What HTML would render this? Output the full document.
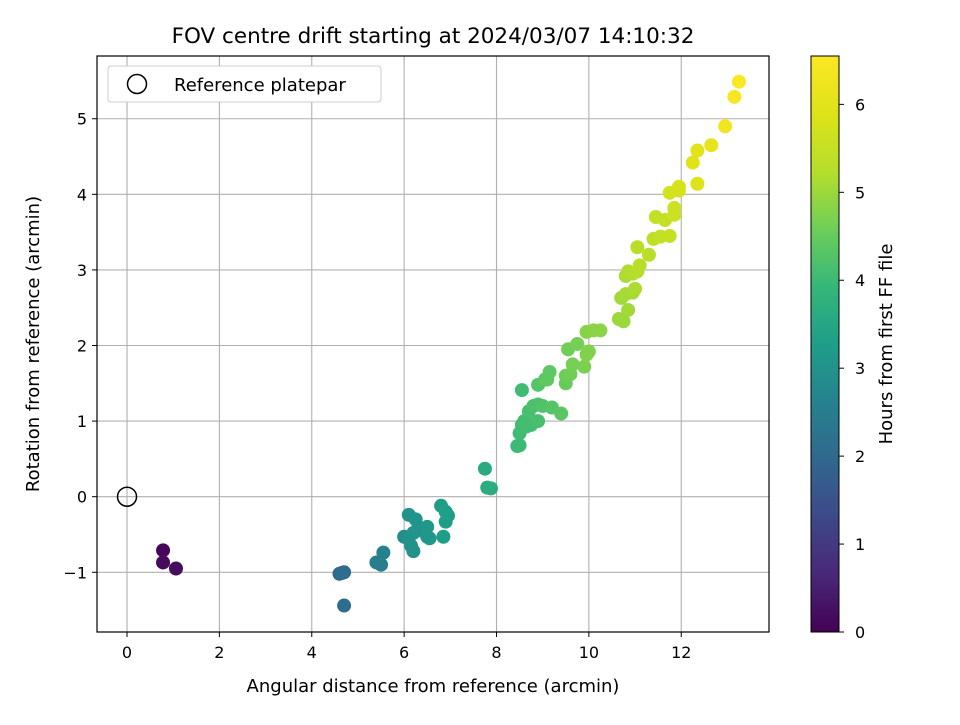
<!DOCTYPE html>
<html><head><meta charset="utf-8"><style>
body{margin:0;background:#fff}
text{font-family:"DejaVu Sans","Liberation Sans",sans-serif;fill:#000}
</style></head><body>
<svg id="chart" width="960" height="720" viewBox="0 0 960 720" xmlns="http://www.w3.org/2000/svg">
<defs>
<linearGradient id="vir" x1="0" y1="1" x2="0" y2="0">
<stop offset="0" stop-color="#440154"/><stop offset="0.1" stop-color="#482878"/><stop offset="0.2" stop-color="#3e4989"/><stop offset="0.3" stop-color="#31688e"/><stop offset="0.4" stop-color="#26828e"/><stop offset="0.5" stop-color="#1f9e89"/><stop offset="0.6" stop-color="#35b779"/><stop offset="0.7" stop-color="#6ece58"/><stop offset="0.8" stop-color="#b5de2b"/><stop offset="0.9" stop-color="#dde318"/><stop offset="1" stop-color="#fde725"/>
</linearGradient>
<clipPath id="clip"><rect x="97" y="56" width="672" height="576"/></clipPath>
</defs>
<text x="433" y="43" font-size="21.5" text-anchor="middle">FOV centre drift starting at 2024/03/07 14:10:32</text>
<g id="grid"></g>
<g id="points" clip-path="url(#clip)"></g>
<rect x="97" y="56" width="672" height="576" fill="none" stroke="#000" stroke-width="1.2"/>
<g id="ticks"></g>
<text x="433" y="692" font-size="18" text-anchor="middle">Angular distance from reference (arcmin)</text>
<text transform="translate(39,344) rotate(-90)" font-size="18" text-anchor="middle">Rotation from reference (arcmin)</text>
<g>
<rect x="108" y="66" width="273" height="36" rx="3" fill="#fff" stroke="#ccc"/>
<circle cx="137" cy="84" r="9.5" fill="none" stroke="#000" stroke-width="1.5"/>
<text x="174" y="91" font-size="18">Reference platepar</text>
</g>
<rect x="811" y="56" width="28" height="576" fill="url(#vir)" stroke="#000" stroke-width="1"/>
<g id="cbticks"></g>
<text transform="translate(892,344) rotate(-90)" font-size="18" text-anchor="middle">Hours from first FF file</text>
</svg>
<script>
const xs=[0.78,0.78,1.06,4.6,4.7,4.65,4.7,5.4,5.5,5.55,6.0,6.1,6.15,6.2,6.1,6.25,6.3,6.4,6.5,6.5,6.55,6.2,6.8,6.9,6.95,6.9,6.85,7.75,7.8,7.88,8.45,8.5,8.5,8.55,8.6,8.7,8.65,8.75,8.8,8.9,8.9,9.0,9.2,9.4,8.55,8.9,9.05,9.1,9.15,9.5,9.5,9.6,9.55,9.65,9.75,9.9,9.95,10.0,9.95,10.1,10.25,10.65,10.75,10.7,10.85,10.8,10.95,11.0,10.8,10.85,10.95,11.05,11.1,11.05,11.3,11.4,11.45,11.55,11.65,11.75,11.85,11.85,11.75,11.95,11.95,12.35,12.25,12.35,12.65,12.95,13.15,13.25];
const ys=[-0.71,-0.87,-0.95,-1.02,-1.0,-1.01,-1.44,-0.87,-0.9,-0.74,-0.53,-0.24,-0.65,-0.72,-0.55,-0.3,-0.42,-0.45,-0.4,-0.53,-0.55,-0.48,-0.12,-0.2,-0.25,-0.33,-0.53,0.37,0.12,0.11,0.67,0.68,0.84,0.95,1.0,1.13,0.93,0.95,1.2,1.22,1.0,1.2,1.18,1.1,1.41,1.48,1.55,1.55,1.65,1.5,1.6,1.62,1.95,1.75,2.02,1.72,1.88,1.92,2.18,2.2,2.2,2.35,2.32,2.63,2.47,2.68,2.7,2.75,2.92,2.98,2.95,2.98,3.06,3.3,3.2,3.41,3.7,3.44,3.66,3.45,3.73,3.82,4.02,4.05,4.1,4.14,4.42,4.58,4.65,4.9,5.29,5.49];
const hours=[0.1,0.15,0.2,2.0,2.05,2.1,2.1,2.5,2.55,2.6,2.9,3.0,3.0,3.0,3.0,3.05,3.05,3.1,3.1,3.1,3.1,3.05,3.25,3.3,3.3,3.3,3.3,3.6,3.62,3.65,4.0,4.0,4.05,4.05,4.1,4.15,4.1,4.1,4.2,4.2,4.15,4.25,4.3,4.35,4.05,4.3,4.35,4.4,4.4,4.5,4.55,4.6,4.6,4.65,4.65,4.7,4.75,4.75,4.8,4.85,4.85,5.0,5.0,5.05,5.05,5.1,5.1,5.15,5.15,5.2,5.2,5.25,5.25,5.3,5.3,5.4,5.45,5.45,5.5,5.5,5.6,5.6,5.7,5.75,5.8,5.9,5.95,6.0,6.1,6.3,6.45,6.5];
const xTicks=[0,2,4,6,8,10,12];
const yTicks=[-1,0,1,2,3,4,5];
const cTicks=[0,1,2,3,4,5,6];
const X0=-0.65,X1=13.9,Y0=-1.79,Y1=5.83,CMAX=6.55;
const sx=v=>97+(v-X0)/(X1-X0)*672;
const sy=v=>632-(v-Y0)/(Y1-Y0)*576;
const sc=v=>632-v/CMAX*576;
const stops=[[68,1,84],[72,40,120],[62,73,137],[49,104,142],[38,130,142],[31,158,137],[53,183,121],[110,206,88],[181,222,43],[221,227,24],[253,231,37]];
function vir(h){let t=Math.max(0,Math.min(1,h/CMAX))*10;let i=Math.min(9,Math.floor(t)),f=t-i;const a=stops[i],b=stops[i+1];return 'rgb('+a.map((c,k)=>Math.round(c+(b[k]-c)*f)).join(',')+')';}
const NS='http://www.w3.org/2000/svg';
function mk(tag,at,parent){const e=document.createElementNS(NS,tag);for(const k in at)e.setAttribute(k,at[k]);parent.appendChild(e);return e;}
const grid=document.getElementById('grid'),tk=document.getElementById('ticks'),pts=document.getElementById('points'),cb=document.getElementById('cbticks');
xTicks.forEach(v=>{const x=sx(v);
const g=mk('line',{x1:x,x2:x,y1:56,y2:632,stroke:'#b0b0b0','stroke-width':1.1},grid);


const t=mk('line',{x1:x,x2:x,y1:632,y2:637,stroke:'#000'},tk);


const l=mk('text',{x:x,y:658,'font-size':16,'text-anchor':'middle'},tk);l.textContent=v;

});
yTicks.forEach(v=>{const y=sy(v);
const g=mk('line',{x1:97,x2:769,y1:y,y2:y,stroke:'#b0b0b0','stroke-width':1.1},grid);


const t=mk('line',{x1:92,x2:97,y1:y,y2:y,stroke:'#000'},tk);


const l=mk('text',{x:87,y:y+6,'font-size':16,'text-anchor':'end'},tk);l.textContent=v<0?'\u2212'+(-v):v;

});
cTicks.forEach(v=>{const y=sc(v);
const t=mk('line',{x1:839,x2:844,y1:y,y2:y,stroke:'#000'},cb);


const l=mk('text',{x:855,y:y+6,'font-size':16},cb);l.textContent=v;

});
xs.forEach((v,i)=>{const c=mk('circle',{cx:sx(v),cy:sy(ys[i]),r:7,fill:vir(hours[i])},pts);

});
const r=mk('circle',{cx:sx(0),cy:sy(0),r:9.5,fill:'none',stroke:'#000','stroke-width':1.5},pts);


</script>
</body></html>
